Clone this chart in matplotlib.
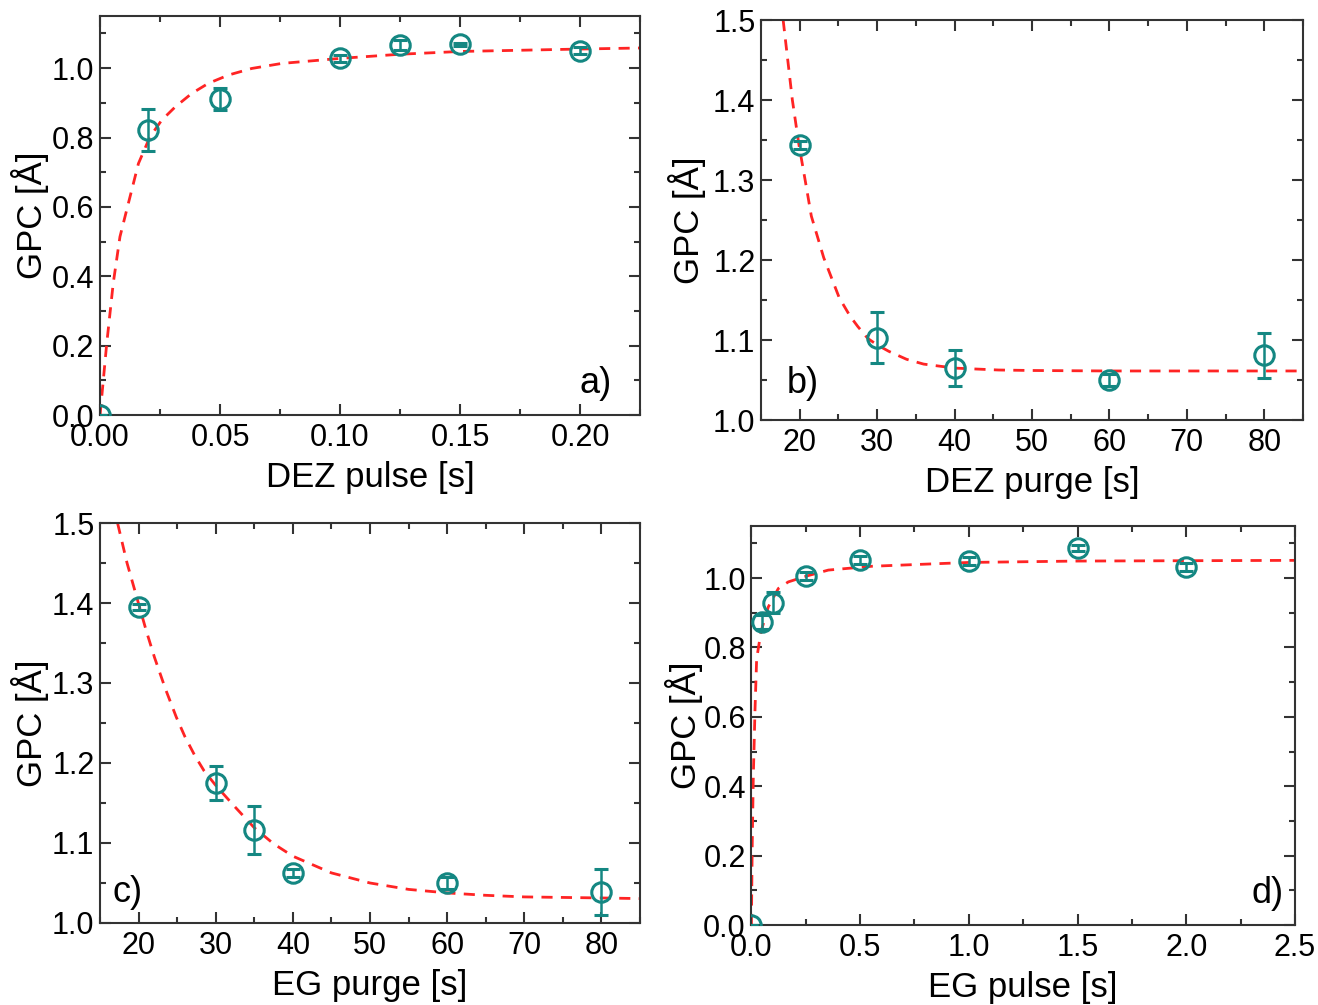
import numpy as np
import matplotlib
matplotlib.use("Agg")
import matplotlib.pyplot as plt
from matplotlib.ticker import MultipleLocator, FormatStrFormatter

plt.rcParams.update({"font.family": ["Liberation Sans", "DejaVu Sans"],
                     "axes.linewidth": 1.5, "axes.edgecolor": "#333333"})

TEAL = "#148782"
RED = "#ff2424"

# a) DEZ pulse
a_x = [0.0, 0.02, 0.05, 0.10, 0.125, 0.15, 0.20]
a_y = [0.0, 0.821, 0.910, 1.029, 1.066, 1.069, 1.050]
a_err = [0.0, 0.060, 0.032, 0.010, 0.015, 0.004, 0.010]
a_fit_x = [0.0, 0.0028, 0.0055, 0.0083, 0.0111, 0.016, 0.0208, 0.0257, 0.0313, 0.0382,
           0.0451, 0.0535, 0.0632, 0.0757, 0.10, 0.125, 0.15, 0.20, 0.225]
a_fit_y = [0.0, 0.207, 0.38, 0.514, 0.591, 0.725, 0.802, 0.85, 0.888, 0.927,
           0.956, 0.98, 0.999, 1.0135, 1.028, 1.040, 1.048, 1.055, 1.058]

# b) DEZ purge
b_x = [20, 30, 40, 60, 80]
b_y = [1.344, 1.103, 1.065, 1.050, 1.081]
b_err = [0.005, 0.032, 0.022, 0.008, 0.028]
b_fit_x = [17.86, 19.05, 19.9, 20.7, 21.5, 23.1, 25.1, 26.5, 27.5, 28.8, 30, 31.5, 33.8,
           36, 40, 45.7, 50, 60, 85]
b_fit_y = [1.5, 1.4, 1.344, 1.3, 1.255, 1.203, 1.153, 1.13, 1.117, 1.102, 1.094, 1.086, 1.076,
           1.07, 1.065, 1.0626, 1.062, 1.0614, 1.0614]

# c) EG purge
c_x = [20, 30, 35, 40, 60, 80]
c_y = [1.395, 1.175, 1.116, 1.063, 1.050, 1.039]
c_err = [0.004, 0.021, 0.030, 0.005, 0.008, 0.029]
c_fit_x = [17.27, 18.5, 20, 21, 22.06, 23.5, 24.9, 26, 27.3, 28.5, 30, 32.6, 35, 37.5, 40,
           45, 50, 55, 60, 65, 70, 80, 85]
c_fit_y = [1.5, 1.45, 1.399, 1.365, 1.332, 1.292, 1.257, 1.233, 1.209, 1.19, 1.172, 1.144,
           1.119, 1.099, 1.0835, 1.0626, 1.05, 1.042, 1.0376, 1.0346, 1.0326, 1.0313, 1.0305]

# d) EG pulse
d_x = [0.0, 0.05, 0.10, 0.25, 0.5, 1.0, 1.5, 2.0]
d_y = [0.0, 0.874, 0.929, 1.006, 1.052, 1.050, 1.087, 1.031]
d_err = [0.0, 0.020, 0.030, 0.012, 0.012, 0.012, 0.008, 0.012]
d_fit_x = [0.0, 0.004, 0.0088, 0.0166, 0.024, 0.030, 0.044, 0.078, 0.124, 0.17, 0.255,
           0.354, 0.554, 1.0, 1.5, 2.0, 2.5]
d_fit_y = [0.0, 0.235, 0.427, 0.62, 0.764, 0.79, 0.845, 0.917, 0.97, 0.989, 1.006,
           1.023, 1.034, 1.045, 1.049, 1.050, 1.051]

panels = [
    # rect, data, xlim, ylim, xmaj, xmin, ymaj, ymin, xfmt, yfmt, xlabel, ylabcoord, label, labpos, ha
    ([0.0759, 0.587, 0.4097, 0.397], (a_x, a_y, a_err, a_fit_x, a_fit_y), (0, 0.225), (0, 1.15),
     0.05, 0.025, 0.2, 0.1, "%.2f", "%.1f", "DEZ pulse [s]", -0.13, "a)", (0.948, 0.08), "right"),
    ([0.5774, 0.582, 0.4112, 0.398], (b_x, b_y, b_err, b_fit_x, b_fit_y), (15, 85), (1.0, 1.5),
     10, 5, 0.1, 0.05, "%d", "%.1f", "DEZ purge [s]", -0.137, "b)", (0.048, 0.092), "left"),
    ([0.0759, 0.0816, 0.4097, 0.398], (c_x, c_y, c_err, c_fit_x, c_fit_y), (15, 85), (1.0, 1.5),
     10, 5, 0.1, 0.05, "%d", "%.1f", "EG purge [s]", -0.13, "c)", (0.024, 0.075), "left"),
    ([0.5701, 0.0796, 0.4124, 0.397], (d_x, d_y, d_err, d_fit_x, d_fit_y), (0, 2.5), (0, 1.15),
     0.5, 0.25, 0.2, 0.1, "%.1f", "%.1f", "EG pulse [s]", -0.124, "d)", (0.98, 0.08), "right"),
]

fig = plt.figure(figsize=(13.18, 10.05), dpi=100)
for (rect, (x, y, err, fx, fy), xl, yl, xmj, xmn, ymj, ymn, xf, yf,
     xlab, ylc, lab, lpos, ha) in panels:
    ax = fig.add_axes(rect)
    ax.plot(fx, fy, color=RED, lw=2.0, dashes=(4, 3), zorder=2)
    ax.errorbar(x, y, yerr=err, fmt="o", ms=14, mfc="none", mec=TEAL, mew=2.2,
                ecolor=TEAL, elinewidth=1.8, capsize=5, capthick=1.8, zorder=3)
    ax.set_xlim(*xl); ax.set_ylim(*yl)
    ax.xaxis.set_major_locator(MultipleLocator(xmj)); ax.xaxis.set_minor_locator(MultipleLocator(xmn))
    ax.yaxis.set_major_locator(MultipleLocator(ymj)); ax.yaxis.set_minor_locator(MultipleLocator(ymn))
    ax.xaxis.set_major_formatter(FormatStrFormatter(xf))
    ax.yaxis.set_major_formatter(FormatStrFormatter(yf))
    ax.tick_params(which="both", direction="in", top=True, right=True, color="#333333", width=1.5,
                   labelsize=22, labelcolor="black")
    ax.tick_params(which="major", length=8)
    ax.tick_params(which="minor", length=4)
    ax.tick_params(axis="x", pad=6)
    ax.tick_params(axis="y", pad=4)
    ax.set_xlabel(xlab, fontsize=25)
    ax.xaxis.label.set_va("center")
    ax.xaxis.set_label_coords(0.5, -0.157)
    ax.set_ylabel("GPC [Å]", fontsize=25)
    ax.yaxis.label.set_va("center")
    ax.yaxis.set_label_coords(ylc, 0.5)
    ax.text(lpos[0], lpos[1], lab, transform=ax.transAxes, fontsize=26, ha=ha, va="center")

fig.savefig("out.png", dpi=100)
